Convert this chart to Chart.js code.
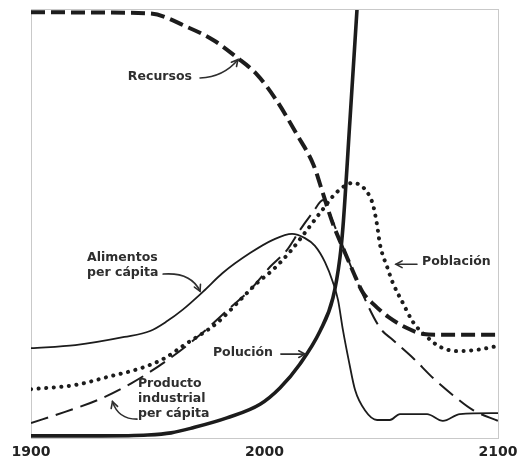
<!DOCTYPE html>
<html>
<head>
<meta charset="utf-8">
<script src="https://cdn.jsdelivr.net/npm/chart.js@4/dist/chart.umd.min.js"></script>
<style>
  html, body { margin: 0; padding: 0; background: #fff; }
  #wrap { width: 520px; height: 462px; }
</style>
</head>
<body>
<div id="wrap"><canvas id="chart" width="520" height="462"></canvas></div>
<script>

// tick labels of the time axis
const xTicks = [1900, 2000, 2100];

// Recursos (thick dashes)
const recursosYears  = [1900, 1930, 1951, 1967, 1978, 1988, 1997, 2005, 2014, 2021, 2025, 2029, 2034, 2038, 2042, 2047, 2053, 2061, 2068, 2075, 2100];
const recursosValues = [99.5, 99.4, 99.2, 96, 93, 89, 84.8, 79, 70.8, 63.8, 57.2, 50.5, 43.9, 38.8, 34.1, 31.1, 28.3, 25.7, 24.3, 24.1, 24.1];

// Población (dots)
const poblacionYears  = [1900, 1919, 1933, 1947.5, 1957.4, 1965, 1979.7, 1989.5, 1996.8, 2003.6, 2010.9, 2018.2, 2023.8, 2031.1, 2037.9, 2043.9, 2046.5, 2048.2, 2049.5, 2052.5, 2055, 2059.3, 2063.6, 2069.6, 2075.2, 2082.4, 2091, 2100];
const poblacionValues = [11.4, 12.4, 14.3, 16.4, 18.7, 21.5, 26.9, 32.2, 36.2, 39.3, 43.5, 48.6, 52.6, 57.5, 59.6, 57.5, 54.4, 49.8, 45.1, 40, 36.2, 31.5, 27.1, 23.6, 21.3, 20.3, 20.6, 21.5];

// Alimentos per cápita (thin solid)
const alimentosYears  = [1900, 1919, 1940, 1951, 1958, 1965, 1973.7, 1982.2, 1993.8, 2003.6, 2011.8, 2017.3, 2021.6, 2025.9, 2029.3, 2031.5, 2033.6, 2036.2, 2038.8, 2043, 2048.2, 2053.7, 2058, 2069.6, 2076.4, 2083.7, 2100];
const alimentosValues = [21, 21.7, 23.6, 25, 27.2, 30, 34.2, 38.6, 43.2, 46.3, 47.7, 46.7, 44.9, 41.1, 36.4, 32.2, 25.2, 17.8, 11.2, 6.5, 4.2, 4.2, 5.6, 5.6, 4, 5.6, 5.8];

// Producto industrial per cápita (thin dashes)
const productoYears  = [1900, 1914.6, 1928.7, 1943.3, 1957.4, 1972.4, 1985.2, 1993.8, 2002.4, 2009.6, 2015.2, 2020.8, 2025.1, 2029.3, 2034.5, 2040.9, 2049.5, 2055, 2063.6, 2072.2, 2080.7, 2089.3, 2100];
const productoValues = [3.5, 6.1, 8.9, 12.9, 17.8, 24.1, 30.4, 34.6, 40, 43.9, 48.6, 52.8, 55.6, 50.5, 43.5, 35, 25.7, 22.9, 18.7, 14, 10, 6.5, 4];

// Polución (thick solid)
const polucionYears  = [1900, 1930, 1950, 1960, 1969.4, 1983.9, 1998.1, 2006.6, 2015.2, 2023.8, 2029.3, 2032.3, 2033.6, 2036.6, 2039.6];
const polucionValues = [0.5, 0.5, 0.7, 1.2, 2.4, 4.7, 7.9, 11.7, 17.3, 25, 32.7, 42.1, 49.3, 74.3, 100];

const ink = '#1c1c1c';

// text notes, placed in data units
const notes = [
    { lines: ["Recursos"], x: 1955.2, y: 84.3, align: "center" },
    { lines: ["Alimentos", "per cápita"], x: 1924, y: 42.1, align: "left" },
    { lines: ["Producto", "industrial", "per cápita"], x: 1945.8, y: 12.6, align: "left" },
    { lines: ["Polución"], x: 1977.9, y: 19.9, align: "left" },
    { lines: ["Población"], x: 2067.5, y: 41.1, align: "left" }
];

// little arrows: tail, bend, head (data units)
const arrows = [
    { from: [1972.4, 84.1], via: [1982.5, 84.4], to: [1988.6, 88.4] },
    { from: [1956.6, 38.3], via: [1968.5, 38.8], to: [1972.4, 34.3] },
    { from: [1945.4, 4.4], via: [1937.3, 4.4], to: [1934.9, 8.5] },
    { from: [2007.0, 19.6], via: [2012, 19.6], to: [2017.3, 19.6] },
    { from: [2065.3, 40.6], via: [2061, 40.6], to: [2056.3, 40.6] }
];

function toPoints(years, values) {
    return years.map(function (yr, i) { return { x: yr, y: values[i] }; });
}

const framePlugin = {
    id: 'frame',
    beforeDatasetsDraw: function (chart) {
        const a = chart.chartArea;
        const ctx = chart.ctx;
        ctx.save();
        ctx.strokeStyle = '#c9c9c9';
        ctx.lineWidth = 1;
        ctx.strokeRect(Math.round(a.left) + 0.5, Math.round(a.top) - 0.5, Math.round(a.right - a.left), Math.round(a.bottom - a.top) + 1);
        ctx.restore();
    }
};

const notesPlugin = {
    id: 'notes',
    afterDatasetsDraw: function (chart) {
        const ctx = chart.ctx;
        const xs = chart.scales.x;
        const ys = chart.scales.y;
        ctx.save();
        ctx.fillStyle = '#2e2e2e';
        ctx.font = 'bold 12.5px "DejaVu Sans", Verdana, sans-serif';
        ctx.textBaseline = 'middle';
        notes.forEach(function (n) {
            ctx.textAlign = n.align;
            const px = xs.getPixelForValue(n.x);
            const py = ys.getPixelForValue(n.y);
            n.lines.forEach(function (line, i) {
                ctx.fillText(line, px, py + i * 15);
            });
        });

        ctx.strokeStyle = '#2e2e2e';
        ctx.lineWidth = 1.6;
        ctx.lineCap = 'round';
        arrows.forEach(function (ar) {
            const x0 = xs.getPixelForValue(ar.from[0]), y0 = ys.getPixelForValue(ar.from[1]);
            const x1 = xs.getPixelForValue(ar.via[0]), y1 = ys.getPixelForValue(ar.via[1]);
            const x2 = xs.getPixelForValue(ar.to[0]), y2 = ys.getPixelForValue(ar.to[1]);
            ctx.beginPath();
            ctx.moveTo(x0, y0);
            ctx.quadraticCurveTo(x1, y1, x2, y2);
            ctx.stroke();
            const ang = Math.atan2(y2 - y1, x2 - x1);
            ctx.beginPath();
            ctx.moveTo(x2 - 7 * Math.cos(ang - 0.5), y2 - 7 * Math.sin(ang - 0.5));
            ctx.lineTo(x2, y2);
            ctx.lineTo(x2 - 7 * Math.cos(ang + 0.5), y2 - 7 * Math.sin(ang + 0.5));
            ctx.stroke();
        });
        ctx.restore();
    }
};

function lineSet(label, years, values, width, dash, cap) {
    return {
        label: label,
        data: toPoints(years, values),
        borderColor: ink,
        borderWidth: width,
        borderDash: dash,
        borderCapStyle: cap || 'butt',
        borderJoinStyle: 'round',
        pointRadius: 0,
        fill: false,
        cubicInterpolationMode: 'monotone'
    };
}

function createChart() {
    const ctx = document.getElementById('chart');
    new Chart(ctx, {
        type: 'line',
        data: {
            datasets: [
                lineSet('Recursos', recursosYears, recursosValues, 4, [14, 6]),
                lineSet('Población', poblacionYears, poblacionValues, 4, [0.1, 7.5], 'round'),
                lineSet('Alimentos per cápita', alimentosYears, alimentosValues, 1.8, []),
                lineSet('Producto industrial per cápita', productoYears, productoValues, 2, [18, 8]),
                lineSet('Polución', polucionYears, polucionValues, 3.6, [])
            ]
        },
        options: {
            responsive: false,
            animation: false,
            devicePixelRatio: 1,
            layout: { padding: { left: 31, right: 22, top: 10, bottom: 1 } },
            plugins: {
                legend: { display: false },
                tooltip: { enabled: false }
            },
            scales: {
                x: {
                    type: 'linear',
                    min: 1900,
                    max: 2100,
                    grid: { display: false, drawTicks: false, tickLength: 0 },
                    border: { display: false },
                    afterBuildTicks: function (axis) {
                        axis.ticks = xTicks.map(function (v) { return { value: v }; });
                    },
                    afterFit: function (axis) {
                        // keep the plot frame where the original has it
                        axis.height = 23;
                        axis.paddingLeft = 0;
                        axis.paddingRight = 0;
                    },
                    ticks: {
                        padding: 6,
                        maxRotation: 0,
                        color: '#222',
                        font: { family: '"DejaVu Sans", Verdana, sans-serif', size: 14, weight: 'bold' },
                        callback: function (v) { return String(v); }
                    }
                },
                y: {
                    display: false,
                    min: 0,
                    max: 100
                }
            }
        },
        plugins: [framePlugin, notesPlugin]
    });
}

createChart();
</script>
</body>
</html>
